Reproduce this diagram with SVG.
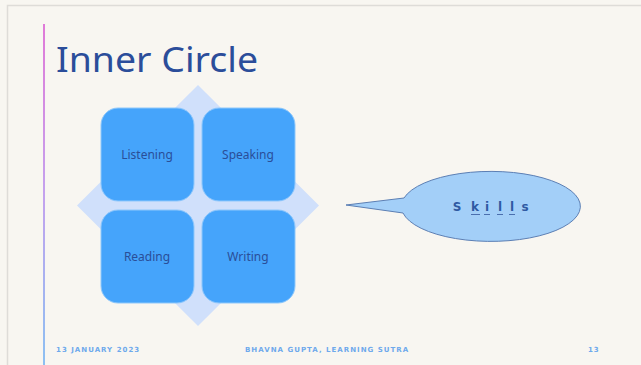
<svg xmlns="http://www.w3.org/2000/svg" width="641" height="365" viewBox="0 0 641 365">
<defs>
<linearGradient id="vline" x1="0" y1="0" x2="0" y2="1">
<stop offset="0" stop-color="#e07ad8"/>
<stop offset="0.5" stop-color="#c4a2ee"/>
<stop offset="1" stop-color="#8cc0f2"/>
</linearGradient>
<style>
.box{fill:#45a4fb;stroke:#8fc8fb;stroke-width:1}
.lbl{font-family:"Comic Sans MS","Noto Sans",sans-serif;font-size:12px;fill:#2a4e98;text-anchor:middle}
.foot{font-family:"DejaVu Sans",sans-serif;font-size:7px;font-weight:bold;fill:#6ea9ec;letter-spacing:0.8px}
</style>
</defs>
<rect x="0" y="0" width="641" height="365" fill="#f8f6f1"/>
<path d="M7.5 365 V5.5 H641" fill="none" stroke="#dedcd8" stroke-width="1.5"/>
<rect x="43" y="24" width="2" height="341" fill="url(#vline)"/>
<text x="56" y="72" font-family="'Comic Sans MS','Noto Sans',sans-serif" font-size="34" fill="#2b4d9a" textLength="202" lengthAdjust="spacingAndGlyphs">Inner Circle</text>
<g id="diamond">
<polygon points="198,85 319,205.5 198,326 77,205.5" fill="#d0e0fb"/>
</g>
<g id="listening">
<rect class="box" x="101" y="108" width="93" height="93" rx="17"/>
<text class="lbl" x="147" y="159">Listening</text>
</g>
<g id="speaking">
<rect class="box" x="202" y="108" width="93" height="93" rx="17"/>
<text class="lbl" x="248" y="159">Speaking</text>
</g>
<g id="reading">
<rect class="box" x="101" y="210" width="93" height="93" rx="17"/>
<text class="lbl" x="147" y="261">Reading</text>
</g>
<g id="writing">
<rect class="box" x="202" y="210" width="93" height="93" rx="17"/>
<text class="lbl" x="248" y="261">Writing</text>
</g>
<g id="skills">
<path d="M404 198 A89.5 35 0 1 1 403 213 L346 205 Z" fill="#a3cff8" stroke="#5c7fb4" stroke-width="1"/>
<text x="457 475 487 500 512 525" y="211" font-family="'DejaVu Sans',sans-serif" font-size="12" font-weight="bold" fill="#2f5aa2" text-anchor="middle">Skills</text>
<g stroke="#4a6fae" stroke-width="1">
<line x1="471" y1="214.5" x2="480" y2="214.5"/>
<line x1="484" y1="214.5" x2="490" y2="214.5"/>
<line x1="497" y1="214.5" x2="503" y2="214.5"/>
<line x1="509" y1="214.5" x2="515" y2="214.5"/>
</g>
</g>
<text class="foot" x="56" y="352" textLength="84">13 JANUARY 2023</text>
<text class="foot" x="245" y="352" textLength="164">BHAVNA GUPTA, LEARNING SUTRA</text>
<text class="foot" x="588" y="352">13</text>
</svg>
